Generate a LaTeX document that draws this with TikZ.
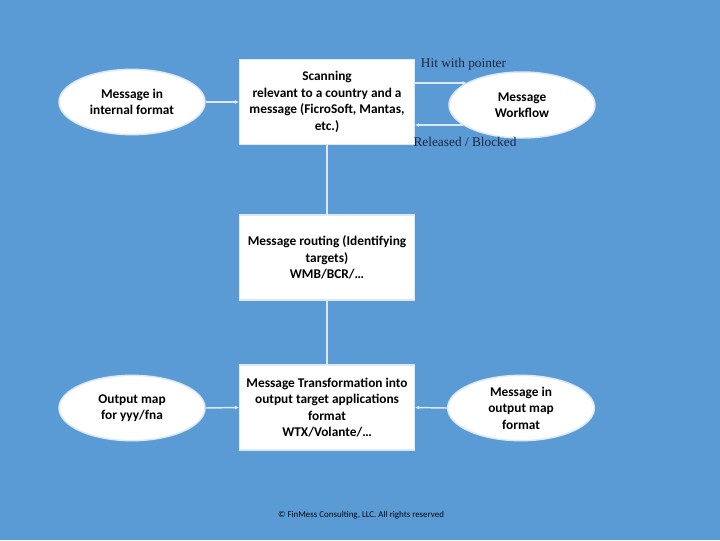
\documentclass[tikz,border=0pt]{standalone}
\usepackage{fontspec}
\setmainfont{Carlito}
\newfontfamily\serifl{Liberation Serif}
\usetikzlibrary{shapes.geometric,arrows.meta}
\definecolor{bg}{HTML}{5B9BD5}
\definecolor{ln}{HTML}{DCE8F6}
\definecolor{lbl}{HTML}{1A2540}
\tikzset{
  oval/.style={ellipse,fill=white,draw=ln,line width=1.1pt,minimum width=109.5pt,minimum height=49pt,inner sep=0pt,align=center,font=\fontsize{10}{12.4}\selectfont\bfseries},
  procbox/.style={rectangle,fill=white,draw=ln,line width=0.8pt,minimum width=131.25pt,minimum height=63.75pt,inner sep=0pt,align=center,font=\fontsize{10}{12.4}\selectfont\bfseries},
  conn/.style={draw=ln,line width=1.1pt},
  tip/.style={-{Latex[length=3pt,width=3pt]}},
  lab/.style={font=\serifl\fontsize{10}{12}\selectfont,text=lbl,inner sep=0pt}
}
\begin{document}
\begin{tikzpicture}[x=0.75pt,y=-0.75pt]
\fill[bg] (0,0) rectangle (720,540);
\useasboundingbox (0,0) rectangle (720,540);
\node[oval] (e1) at (132,102) {Message in\\internal format};
\node[procbox] (scan) at (327,102) {Scanning\\relevant to a country and a\\message (FicroSoft, Mantas,\\etc.)};
\node[oval,minimum height=49.5pt] (wf) at (522,105) {Message\\Workflow};
\node[procbox] (route) at (327,257.5) {Message routing (Identifying\\targets)\\WMB/BCR/\dots};
\node[procbox] (trans) at (327,407.5) {Message Transformation into\\output target applications\\format\\WTX/Volante/\dots};
\node[oval] (e2) at (132,408) {Output map\\for yyy/fna};
\node[oval,minimum width=110pt] (e3) at (521,408) {Message in\\output map\\format};
\node[lab] (hit) at (463.5,64) {Hit with pointer};
\node[lab] (rel) at (465,142) {Released / Blocked};
\node[font=\fontsize{6.7}{7}\selectfont,text=black!85!lbl,inner sep=0pt] (copy) at (361,515) {© FinMess Consulting, LLC. All rights reserved};
\draw[conn,tip] (e1.east) -- (scan.west);
\draw[conn,tip] ([yshift=14.25pt]scan.east) -- ([yshift=14.25pt]scan.east -| wf.158);
\draw[conn,tip] ([yshift=-17.25pt]scan.east -| wf.199) -- ([yshift=-17.25pt]scan.east);
\draw[conn] (scan.south) -- (route.north);
\draw[conn] (route.south) -- (trans.north);
\draw[conn,tip] (e2.east) -- (trans.west);
\draw[conn,tip] (e3.west) -- (trans.east);
\end{tikzpicture}
\end{document}
